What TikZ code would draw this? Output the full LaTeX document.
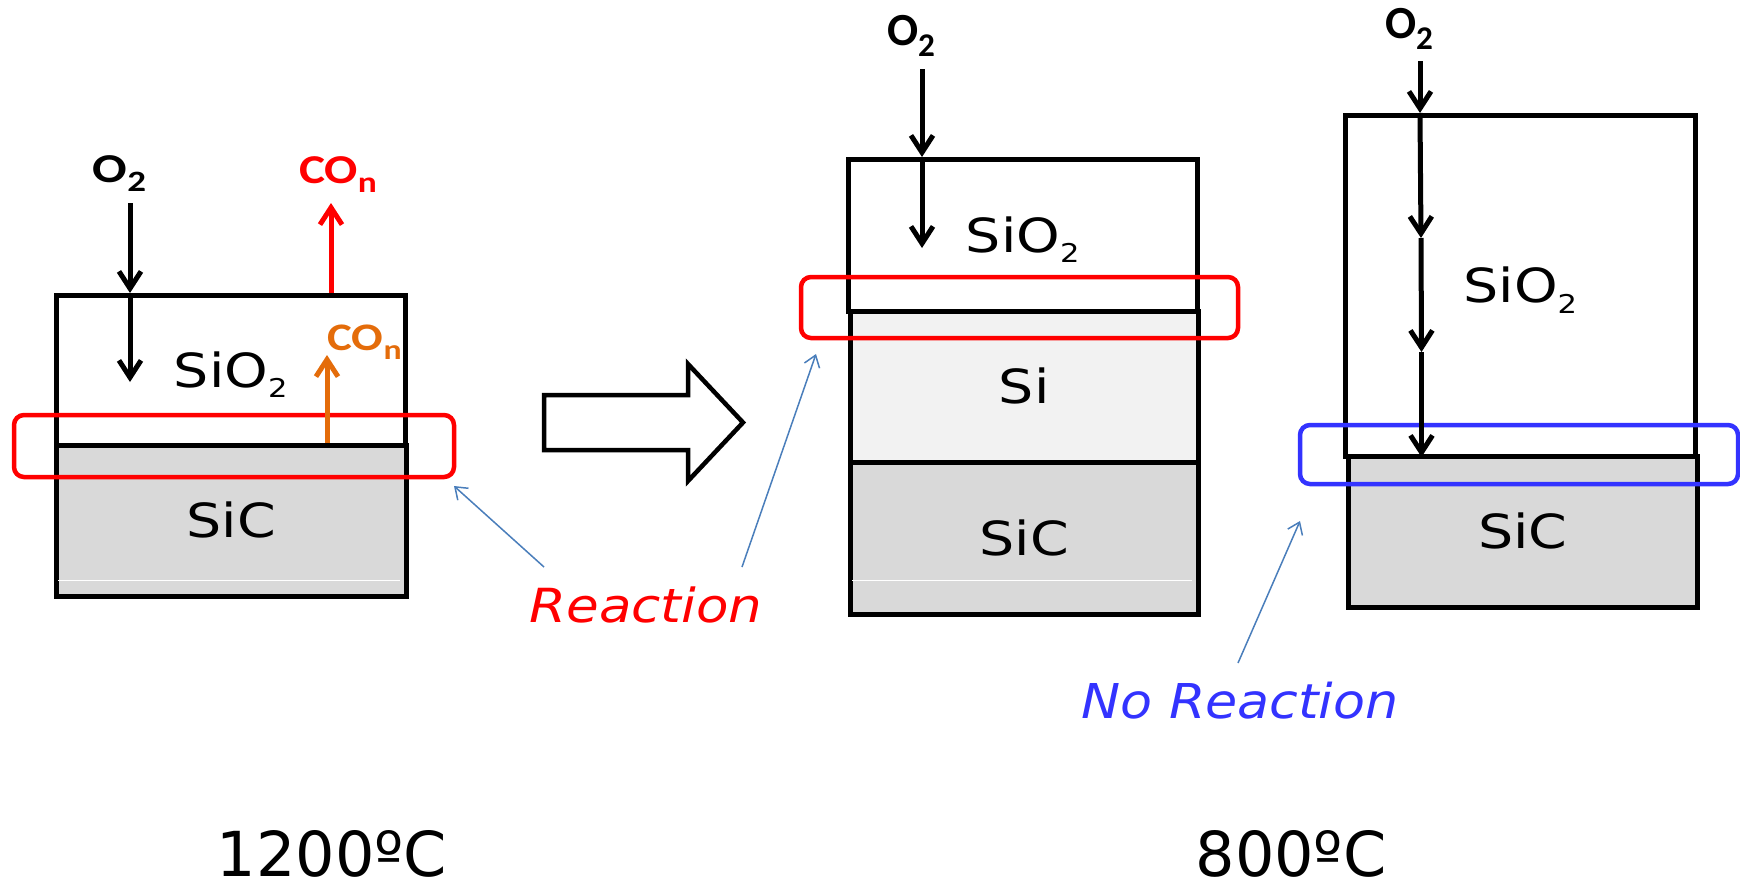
\documentclass[tikz,border=0pt]{standalone}
\usepackage{fontspec}
\setmainfont{DejaVu Sans}
\newfontfamily\calfont{Carlito}
\usetikzlibrary{arrows.meta}
\definecolor{sicgray}{HTML}{D9D9D9}
\definecolor{sigray}{HTML}{F2F2F2}
\definecolor{myred}{HTML}{FF0000}
\definecolor{myorange}{HTML}{E46C0A}
\definecolor{myblue}{HTML}{3333FF}
\definecolor{pointblue}{HTML}{4A7EBB}
\newcommand\sbs[1]{\raisebox{-0.22em}{\scalebox{0.55}{#1}}}
\newcommand\csbs[1]{\raisebox{-0.24em}{\scalebox{0.72}{#1}}}
\newcommand\wide[1]{\scalebox{1.18}[1]{#1}}
\tikzset{
  layer/.style={draw=black, line width=4.5pt, inner sep=0pt, anchor=north west,
    font=\fontsize{47}{56}\selectfont, text height=34.3pt, text depth=0pt},
  oxide/.style={layer, fill=white},
  silayer/.style={layer, fill=sigray},
  sic/.style={layer, fill=sicgray},
  zone/.style={rounded corners=10pt, line width=4.5pt},
  gas/.style={font=\calfont\bfseries, inner sep=0pt, anchor=base},
  flow/.style={line width=5pt, -{Straight Barb[length=17pt,width=22pt,line width=5pt]}},
  pointer/.style={draw=pointblue, line width=1.5pt, -{Straight Barb[length=11pt,width=16pt,line width=1.5pt]}},
  note/.style={font=\itshape, inner sep=0pt, anchor=base},
  temp/.style={font=\fontsize{62}{74}\selectfont, inner sep=0pt, anchor=base, text depth=0pt},
  bigarrow/.style={draw=black, line width=4.5pt, line join=miter, fill=white},
  seam/.style={draw=white, line width=1pt}
}
\begin{document}
\begin{tikzpicture}[x=1pt,y=-1pt]
\useasboundingbox (0,0) rectangle (1740,884);

% ---------- left panel (1200 C) ----------
\node[oxide, minimum width=349pt, minimum height=150pt] (oxL) at (54,293) {\wide{SiO\sbs{2}}};
\node[sic, minimum width=350pt, minimum height=151pt] (sicL) at (54,443) {\wide{SiC}};
\draw[seam] (58,580) -- (400,580);
\draw[zone, draw=myred] (14,415) rectangle (454,477);

\node[gas, font=\calfont\bfseries\fontsize{41}{49}\selectfont] (o2L) at (119.5,182) {\scalebox{1.25}[1]{O\csbs{2}}};
\node[gas, text=myred, font=\calfont\bfseries\fontsize{41}{49}\selectfont] (coL) at (338,183) {\scalebox{1.2}[1]{CO\csbs{n}}};
\node[gas, text=myorange, font=\calfont\bfseries\fontsize{39}{47}\selectfont] (coI) at (364.5,350) {\scalebox{1.2}[1]{CO\csbs{n}}};

\coordinate (aL0) at (130,203);
\coordinate (aL1) at (aL0 |- oxL.north);
\coordinate (aL2) at (130,382);
\draw[flow] (aL0) -- (aL1);
\draw[flow] (aL1) -- (aL2);

\coordinate (rL0) at (331,293);
\coordinate (rL1) at (331,203);
\draw[flow, draw=myred] (rL0) -- (rL1);

\coordinate (oL0) at (327,443);
\coordinate (oL1) at (327,355);
\draw[flow, draw=myorange] (oL0) -- (oL1);

% ---------- big transition arrow ----------
\draw[bigarrow] (544,395) -- (688,395) -- (688,364) -- (743,422.5) -- (688,481) -- (688,450) -- (544,450) -- cycle;

% ---------- middle panel (800 C, Si) ----------
\node[oxide, minimum width=349pt, minimum height=152pt] (oxM) at (846,157) {\wide{SiO\sbs{2}}};
\node[silayer, minimum width=348pt, minimum height=151pt] (siM) at (848,309) {\wide{Si}};
\node[sic, minimum width=348pt, minimum height=152pt] (sicM) at (848,460) {\wide{SiC}};
\draw[seam] (852,580) -- (1192,580);
\draw[zone, draw=myred] (801,277) rectangle (1238,338);

\node[gas, font=\calfont\bfseries\fontsize{46}{55}\selectfont] (o2M) at (911,45) {O\csbs{2}};
\coordinate (aM0) at (922,69);
\coordinate (aM1) at (aM0 |- oxM.north);
\coordinate (aM2) at (922,248);
\draw[flow] (aM0) -- (aM1);
\draw[flow] (aM1) -- (aM2);

% ---------- right panel (800 C, no Si) ----------
\node[oxide, minimum width=350pt, minimum height=341pt] (oxR) at (1343,113) {\wide{SiO\sbs{2}}};
\node[sic, minimum width=349pt, minimum height=151pt] (sicR) at (1346,454) {\wide{SiC}};
\draw[zone, draw=myblue] (1300,425) rectangle (1738,484);

\node[gas, font=\calfont\bfseries\fontsize{46}{55}\selectfont] (o2R) at (1409,38.5) {O\csbs{2}};
\coordinate (aR0) at (1420,61);
\coordinate (aR1) at (aR0 |- oxR.north);
\coordinate (aR2) at (1421,238);
\coordinate (aR3) at (1421.5,352);
\coordinate (aR4) at (1421.5,457);
\draw[flow] (aR0) -- (aR1);
\draw[flow] (aR1) -- (aR2);
\draw[flow] (aR2) -- (aR3);
\draw[flow] (aR3) -- (aR4);

% ---------- annotations ----------
\node[note, text=myred, font=\itshape\fontsize{47}{56}\selectfont] (react) at (646,622) {\scalebox{1.13}[1]{Reaction}};
\coordinate (p1s) at (544,567);
\coordinate (p1e) at (454,486);
\coordinate (p2s) at (742,567);
\coordinate (p2e) at (816,354);
\draw[pointer] (p1s) -- (p1e);
\draw[pointer] (p2s) -- (p2e);

\node[note, text=myblue, font=\itshape\fontsize{48}{58}\selectfont] (noreact) at (1240,718) {\scalebox{1.09}[1]{No Reaction}};
\coordinate (p3s) at (1238,663);
\coordinate (p3e) at (1300,521);
\draw[pointer] (p3s) -- (p3e);

\node[temp] (tHigh) at (332,876) {1200ºC};
\node[temp] (tLow) at (1291,876) {800ºC};
\end{tikzpicture}
\end{document}
